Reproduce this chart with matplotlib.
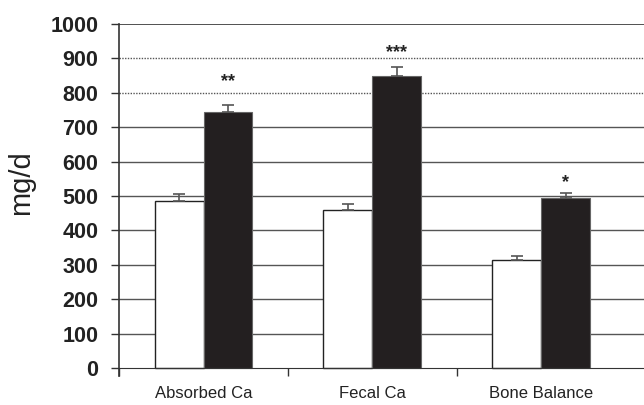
import numpy as np
import matplotlib.pyplot as plt

plt.rcParams['font.family'] = ['Liberation Sans', 'DejaVu Sans']

# valores medios (mg/d) y error estándar para cada grupo
categorias = ['Absorbed Ca', 'Fecal Ca', 'Bone Balance']
control = [485, 460, 314]
control_err = [20, 17, 12]
tratado = [744, 848, 493]
tratado_err = [21, 27, 15]
signif = ['**', '***', '*']
signif_y = [832, 918, 540]

fig = plt.figure(figsize=(6.44, 4.05), dpi=100)
ax = fig.add_axes([0.185, 0.0716, 0.815, 0.869])

x = np.arange(len(categorias)) + 0.5
ancho = 0.29

# líneas horizontales de referencia (las de 800 y 900 punteadas)
for v in range(100, 1000, 100):
    estilo = (0, (1, 1)) if v in (800, 900) else '-'
    ax.axhline(v, color='#555555', lw=1.0, ls=estilo, zorder=0)
ax.axhline(1000, color='#333333', lw=1.2, zorder=0)

ax.bar(x - ancho / 2, control, ancho, color='white', edgecolor='#222222', lw=1.0, zorder=2)
ax.bar(x + ancho / 2, tratado, ancho, color='#231f20', edgecolor='#666666', lw=0.8, zorder=2)
ax.errorbar(x - ancho / 2, control, yerr=[np.zeros(3), control_err], fmt='none',
            ecolor='#555555', elinewidth=1.2, capsize=4, capthick=1.2, zorder=3)
ax.errorbar(x + ancho / 2, tratado, yerr=[np.zeros(3), tratado_err], fmt='none',
            ecolor='#555555', elinewidth=1.2, capsize=4, capthick=1.2, zorder=3)

for xi, s, yi in zip(x, signif, signif_y):
    ax.text(xi + ancho / 2, yi, s, ha='center', va='center', fontsize=13, fontweight='bold', color='#222222')

ax.set_xlim(0, 3.11)
ax.set_ylim(-23, 1000)
ax.set_yticks(range(0, 1001, 100))
ax.set_yticklabels([str(v) for v in range(0, 1001, 100)], fontsize=15.5, fontweight='bold', color='#222222')
ax.tick_params(axis='y', direction='out', length=6, width=1, color='#333333', pad=9)

# ticks en los límites de grupo, etiquetas centradas en cada grupo
ax.set_xticks([0, 1, 2])
ax.set_xticklabels([])
ax.set_xticks(x, labels=categorias, minor=True)
ax.tick_params(axis='x', which='major', direction='out', length=6, width=1, color='#333333')
ax.tick_params(axis='x', which='minor', length=0, pad=13, labelsize=12, labelcolor='#222222')

ax.spines['bottom'].set_position(('data', 0))
ax.spines['bottom'].set_color('#333333')
ax.spines['left'].set_color('#333333')
ax.spines['left'].set_linewidth(1.2)
ax.spines['top'].set_visible(False)
ax.spines['right'].set_visible(False)

ax.set_ylabel('mg/d', fontsize=21, color='#222222')
ax.yaxis.set_label_coords(-0.16, 0.55)

fig.savefig('out.png', dpi=100)
